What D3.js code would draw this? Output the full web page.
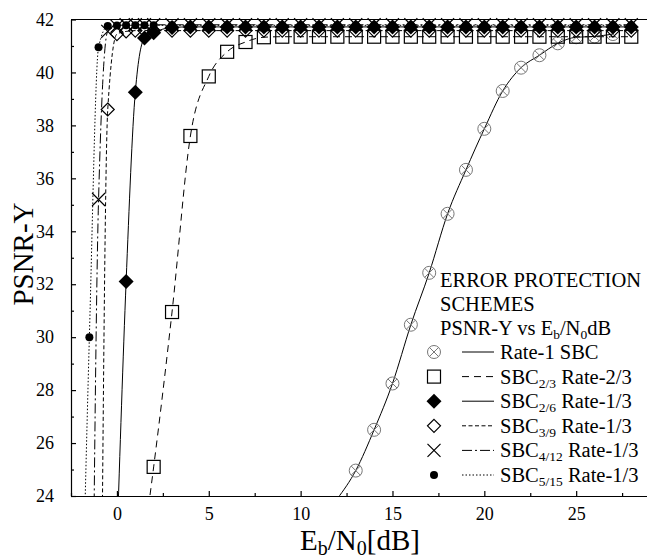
<!DOCTYPE html>
<html>
<head>
<meta charset="utf-8">
<script src="https://cdn.jsdelivr.net/npm/d3@7"></script>
<style>
  body { margin: 0; background: #fff; }
  text { font-family: "Liberation Serif", "Times New Roman", serif; fill: #000; }
</style>
</head>
<body>
<div id="chart"></div>
<script>
// tick values
const xMajorTicks = [0, 5, 10, 15, 20, 25];
const xMinorTicks = [-2.5, 2.5, 7.5, 12.5, 17.5, 22.5, 27.5];
const yMajorTicks = [24, 26, 28, 30, 32, 34, 36, 38, 40, 42];
const yMinorTicks = [25, 27, 29, 31, 33, 35, 37, 39, 41];

// Rate-1 SBC
const rate1X = [12, 13, 14, 15, 16, 17, 18, 19, 20, 21, 22, 23, 24, 25, 26, 27];
const rate1Y = [23.9, 24.96, 26.5, 28.25, 30.47, 32.43, 34.66, 36.32, 37.87, 39.3, 40.18, 40.65, 41.1, 41.33, 41.36, 41.45];

// SBC 2/3 Rate-2/3
const sbc23X = [1, 2, 3, 4, 5, 6, 7, 8, 9, 10, 11, 12, 13, 14, 15, 16, 17, 18, 19, 20, 21, 22, 23, 24, 25, 26, 27, 28];
const sbc23Y = [20, 25.1, 30.95, 37.6, 39.85, 40.78, 41.15, 41.33, 41.35, 41.35, 41.35, 41.35, 41.35, 41.35, 41.35, 41.35, 41.35, 41.35, 41.35, 41.35, 41.35, 41.35, 41.35, 41.35, 41.35, 41.35, 41.35, 41.35];

// SBC 2/6 Rate-1/3
const sbc26X = [0, 0.5, 1, 1.5, 2, 3, 4, 5, 6, 7, 8, 9, 10, 11, 12, 13, 14, 15, 16, 17, 18, 19, 20, 21, 22, 23, 24, 25, 26, 27, 28];
const sbc26Y = [22.2, 32.1, 39.25, 41.3, 41.5, 41.7, 41.72, 41.72, 41.72, 41.72, 41.72, 41.72, 41.72, 41.72, 41.72, 41.72, 41.72, 41.72, 41.72, 41.72, 41.72, 41.72, 41.72, 41.72, 41.72, 41.72, 41.72, 41.72, 41.72, 41.72, 41.72];

// SBC 3/9 Rate-1/3
const sbc39X = [-1, -0.5, 0, 0.5, 1, 1.5, 2, 3, 4, 5, 6, 7, 8, 9, 10, 11, 12, 13, 14, 15, 16, 17, 18, 19, 20, 21, 22, 23, 24, 25, 26, 27, 28];
const sbc39Y = [4, 38.6, 41.45, 41.55, 41.58, 41.58, 41.58, 41.58, 41.58, 41.58, 41.58, 41.58, 41.58, 41.58, 41.58, 41.58, 41.58, 41.58, 41.58, 41.58, 41.58, 41.58, 41.58, 41.58, 41.58, 41.58, 41.58, 41.58, 41.58, 41.58, 41.58, 41.58, 41.58];

// SBC 4/12 Rate-1/3
const sbc412X = [-1.5, -1, -0.5, 0, 0.5, 1, 1.5, 2, 3, 4, 5, 6, 7, 8, 9, 10, 11, 12, 13, 14, 15, 16, 17, 18, 19, 20, 21, 22, 23, 24, 25, 26, 27, 28];
const sbc412Y = [4, 35.2, 41.55, 41.75, 41.8, 41.8, 41.8, 41.8, 41.8, 41.8, 41.8, 41.8, 41.8, 41.8, 41.8, 41.8, 41.8, 41.8, 41.8, 41.8, 41.8, 41.8, 41.8, 41.8, 41.8, 41.8, 41.8, 41.8, 41.8, 41.8, 41.8, 41.8, 41.8, 41.8];

// SBC 5/15 Rate-1/3
const sbc515X = [-2, -1.5, -1, -0.5, 0, 0.5, 1, 1.5, 2, 3, 4, 5, 6, 7, 8, 9, 10, 11, 12, 13, 14, 15, 16, 17, 18, 19, 20, 21, 22, 23, 24, 25, 26, 27, 28];
const sbc515Y = [16, 30, 40.95, 41.75, 41.77, 41.78, 41.78, 41.78, 41.78, 41.78, 41.78, 41.78, 41.78, 41.78, 41.78, 41.78, 41.78, 41.78, 41.78, 41.78, 41.78, 41.78, 41.78, 41.78, 41.78, 41.78, 41.78, 41.78, 41.78, 41.78, 41.78, 41.78, 41.78, 41.78, 41.78];

const width = 647;
const height = 559;

const series = [
  { xs: rate1X, ys: rate1Y, marker: "circleX", dash: null, label: ["Rate-1 SBC"] },
  { xs: sbc23X, ys: sbc23Y, marker: "square", dash: "7,5", label: ["SBC", "2/3", " Rate-2/3"] },
  { xs: sbc26X, ys: sbc26Y, marker: "diamondFilled", dash: null, label: ["SBC", "2/6", " Rate-1/3"] },
  { xs: sbc39X, ys: sbc39Y, marker: "diamond", dash: "4,2.5", label: ["SBC", "3/9", " Rate-1/3"] },
  { xs: sbc412X, ys: sbc412Y, marker: "cross", dash: "10,3,2,3", label: ["SBC", "4/12", " Rate-1/3"] },
  { xs: sbc515X, ys: sbc515Y, marker: "dot", dash: "1.5,2", label: ["SBC", "5/15", " Rate-1/3"] },
];

const x = d3.scaleLinear().domain([-2.5, 30]).range([71, 71 + 32.5 * 18.37]);
const y = d3.scaleLinear().domain([24, 42]).range([496, 19.5]);

const svg = d3
  .select("#chart")
  .append("svg")
  .attr("width", width)
  .attr("height", height);

svg
  .append("defs")
  .append("clipPath")
  .attr("id", "plotClip")
  .append("rect")
  .attr("x", x(-2.5))
  .attr("y", y(42))
  .attr("width", width - x(-2.5))
  .attr("height", y(24) - y(42));

// axes (ticks point inward)
svg
  .append("g")
  .attr("transform", `translate(0,${y(24)})`)
  .call(
    d3.axisBottom(x).tickValues(xMajorTicks).tickSize(-5).tickSizeOuter(0).tickPadding(11)
  );
svg
  .append("g")
  .attr("transform", `translate(0,${y(24)})`)
  .call(d3.axisBottom(x).tickValues(xMinorTicks).tickSize(-3).tickFormat(""))
  .call((g) => g.select(".domain").remove());

svg
  .append("g")
  .attr("transform", `translate(${x(-2.5)},0)`)
  .call(
    d3.axisLeft(y).tickValues(yMajorTicks).tickSize(-5).tickSizeOuter(0).tickPadding(17)
  );
svg
  .append("g")
  .attr("transform", `translate(${x(-2.5)},0)`)
  .call(d3.axisLeft(y).tickValues(yMinorTicks).tickSize(-3).tickFormat(""))
  .call((g) => g.select(".domain").remove());

svg.selectAll(".tick text").style("font-size", "18px").style("font-family", '"Liberation Serif", serif');
svg.selectAll(".domain, .tick line").attr("stroke", "#000").attr("stroke-width", 1.2);

// top frame line
svg
  .append("line")
  .attr("x1", x(-2.5))
  .attr("x2", width)
  .attr("y1", y(42))
  .attr("y2", y(42))
  .attr("stroke", "#000")
  .attr("stroke-width", 1.2);

// axis titles
const xTitle = svg
  .append("text")
  .attr("x", 360)
  .attr("y", 550)
  .attr("text-anchor", "middle")
  .style("font-size", "29px");
xTitle.append("tspan").text("E");
xTitle.append("tspan").attr("dy", 5).style("font-size", "20px").text("b");
xTitle.append("tspan").attr("dy", -5).text("/N");
xTitle.append("tspan").attr("dy", 5).style("font-size", "20px").text("0");
xTitle.append("tspan").attr("dy", -5).text("[dB]");

svg
  .append("text")
  .attr("transform", `translate(33,254) rotate(-90)`)
  .attr("text-anchor", "middle")
  .style("font-size", "29px")
  .text("PSNR-Y");

// markers
function drawMarker(g, type, cx, cy) {
  if (type === "circleX") {
    const r = 6.5;
    const k = r * Math.SQRT1_2;
    g.append("circle").attr("cx", cx).attr("cy", cy).attr("r", r)
      .attr("fill", "none").attr("stroke", "#777").attr("stroke-width", 1);
    g.append("path")
      .attr("d", `M${cx - k},${cy - k}L${cx + k},${cy + k}M${cx - k},${cy + k}L${cx + k},${cy - k}`)
      .attr("stroke", "#777").attr("stroke-width", 1);
  } else if (type === "square") {
    g.append("rect").attr("x", cx - 6.5).attr("y", cy - 6.5).attr("width", 13).attr("height", 13)
      .attr("fill", "none").attr("stroke", "#000").attr("stroke-width", 1.2);
  } else if (type === "diamondFilled") {
    const s = 7.5;
    g.append("path")
      .attr("d", `M${cx},${cy - s}L${cx + s},${cy}L${cx},${cy + s}L${cx - s},${cy}Z`)
      .attr("fill", "#000");
  } else if (type === "diamond") {
    const s = 6.5;
    g.append("path")
      .attr("d", `M${cx},${cy - s}L${cx + s},${cy}L${cx},${cy + s}L${cx - s},${cy}Z`)
      .attr("fill", "none").attr("stroke", "#000").attr("stroke-width", 1.2);
  } else if (type === "cross") {
    const s = 6.5;
    g.append("path")
      .attr("d", `M${cx - s},${cy - s}L${cx + s},${cy + s}M${cx - s},${cy + s}L${cx + s},${cy - s}`)
      .attr("stroke", "#000").attr("stroke-width", 1.2);
  } else if (type === "dot") {
    g.append("circle").attr("cx", cx).attr("cy", cy).attr("r", 4).attr("fill", "#000");
  }
}

const line = d3
  .line()
  .x((d) => x(d[0]))
  .y((d) => y(d[1]))
  .curve(d3.curveMonotoneX);

const plot = svg.append("g");

series.forEach((s) => {
  const pts = s.xs.map((v, i) => [v, s.ys[i]]);
  plot
    .append("path")
    .attr("clip-path", "url(#plotClip)")
    .attr("d", line(pts))
    .attr("fill", "none")
    .attr("stroke", "#000")
    .attr("stroke-width", 1)
    .attr("stroke-dasharray", s.dash);
});

series.forEach((s) => {
  const g = plot.append("g");
  s.xs.forEach((v, i) => {
    if (s.ys[i] < 24) return; // off the chart
    drawMarker(g, s.marker, x(v), y(s.ys[i]));
  });
});

// legend
const legend = svg.append("g");
const fs = "20.5px";
const sub = "13.5px";
legend.append("text").attr("x", 440).attr("y", 287).style("font-size", fs).text("ERROR PROTECTION");
legend.append("text").attr("x", 440).attr("y", 311).style("font-size", fs).text("SCHEMES");
const t3 = legend.append("text").attr("x", 440).attr("y", 335).style("font-size", fs);
t3.append("tspan").text("PSNR-Y vs E");
t3.append("tspan").attr("dy", 4).style("font-size", sub).text("b");
t3.append("tspan").attr("dy", -4).text("/N");
t3.append("tspan").attr("dy", 4).style("font-size", sub).text("0");
t3.append("tspan").attr("dy", -4).text("dB");

series.forEach((s, i) => {
  const cy = 352 + i * 24.6;
  drawMarker(legend, s.marker, 434, cy);
  legend
    .append("line")
    .attr("x1", 462)
    .attr("x2", 494)
    .attr("y1", cy)
    .attr("y2", cy)
    .attr("stroke", "#000")
    .attr("stroke-width", 1)
    .attr("stroke-dasharray", s.dash);
  const t = legend.append("text").attr("x", 500).attr("y", cy + 7).style("font-size", fs);
  t.append("tspan").text(s.label[0]);
  if (s.label.length > 1) {
    t.append("tspan").attr("dy", 4).style("font-size", sub).text(s.label[1]);
    t.append("tspan").attr("dy", -4).text(s.label[2]);
  }
});
</script>
</body>
</html>
